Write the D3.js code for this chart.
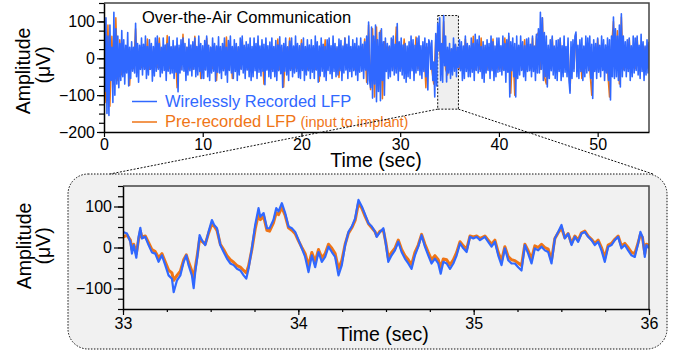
<!DOCTYPE html>
<html>
<head>
<meta charset="utf-8">
<script src="https://cdn.jsdelivr.net/npm/d3@7"></script>
<style>
  body { margin: 0; background: #fff; }
  text { font-family: "Liberation Sans", Arial, sans-serif; }
</style>
</head>
<body>
<div id="chart"></div>
<script>
// ---- data ----
// top panel: 0.1 s sampling, 0 .. 55.2 s
const overviewStep = 0.1;
const overviewBlue = [
  20, -90, 110, -150, 60, -155, 90, -60, 30, -120,
  125, -100, 80, -70, 60, -80, 40, -60, 75, -50,
  50, -70, 35, -40, 70, -75, 30, -55, 45, -35,
  30, -40, 95, -50, 40, -65, 35, -30, 55, -45,
  38, -30, 60, -55, 32, -45, 50, -30, 40, -62,
  32, -48, 55, -35, 60, -30, 40, -50, 30, -40,
  55, -33, 36, -60, 40, -35, 58, -42, 31, -40,
  48, -55, 33, -38, 55, -91, 35, -40, 50, -32,
  55, -35, 40, -60, 30, -45, 52, -34, 36, -48,
  45, -30, 55, -50, 32, -45, 60, -36, 40, -55,
  34, -55, 48, -32, 60, -50, 35, -60, 30, -40,
  55, -35, 40, -62, 33, -38, 58, -40, 32, -55,
  40, -34, 55, -45, 30, -65, 48, -33, 60, -40,
  32, -55, 50, -36, 40, -60, 31, -45, 55, -30,
  60, -40, 35, -55, 45, -32, 38, -50, 55, -60,
  32, -50, 55, -34, 40, -55, 60, -38, 33, -48,
  50, -35, 38, -72, 55, -32, 34, -50, 44, -55,
  55, -36, 32, -50, 48, -60, 36, -34, 58, -42,
  35, -79, 40, -35, 55, -45, 31, -60, 47, -33,
  55, -50, 33, -40, 60, -36, 40, -52, 34, -55,
  40, -33, 55, -60, 32, -45, 50, -34, 36, -55,
  50, -38, 34, -55, 60, -32, 45, -65, 33, -48,
  55, -35, 38, -50, 32, -60, 50, -33, 55, -42,
  34, -55, 60, -36, 40, -50, 31, -45, 52, -34,
  48, -60, 33, -40, 55, -32, 38, -55, 60, -36,
  32, -50, 50, -34, 40, -45, 55, -60, 33, -38,
  55, -35, 38, -55, 45, -32, 60, -70, 98, -60,
  -80, 85, -108, 60, -70, 90, -118, 50, -90, 70,
  -115, 80, -60, 45, -100, 55, -36, 40, -55, 33,
  -50, 55, -34, 60, -45, 38, -40, 94, -60, 45,
  -35, 55, -45, 36, -55, 40, -65, 33, -50, 45,
  -55, 60, -34, 50, -60, 35, -40, 55, -33, 60,
  -45, 34, -55, 45, -36, 55, -50, 40, -86, 50,
  40, -30, 48, -60, -10, -105, 67, -75, 95, 20,
  110, -60, 40, -65, 116, -20, 60, -64, 30, -40,
  40, -55, 26, -45, 55, -35, 38, -50, 30, -25,
  50, -34, 45, -60, 33, -55, 60, -36, 40, -50,
  34, -50, 55, -38, 40, -60, 65, -33, 50, -40,
  60, -36, 32, -55, 45, -65, 35, -40, 50, -33,
  40, -55, 60, -34, 45, -60, 33, -50, 55, -38,
  55, -36, 34, -45, 60, -33, 40, -65, 50, -38,
  68, -105, 45, -34, 55, -50, 40, -105, 60, -55,
  35, -45, 60, -33, 45, -50, 34, -60, 52, -36,
  55, -34, 38, -50, 60, -36, 33, -60, 65, -40,
  80, -40, 125, -30, 110, -60, 70, -50, 60, -78,
  35, -55, 50, -34, 60, -45, 33, -55, 48, -60,
  50, -36, 55, -60, 34, -50, 60, -38, 32, -50,
  55, -60, -95, 45, -55, 50, -36, 60, 71, -50,
  35, -55, 50, -36, 55, -60, 33, -50, 60, -40,
  55, -34, 60, -55, 38, -109, 50, -36, 40, -55,
  55, -38, 35, -50, 60, -33, 50, -60, 36, -40,
  55, -60, 50, -113, 60, -50, 112, -55, 80, -50,
  60, -60, 90, -78, 121, -50, 60, -34, 45, -50,
  50, -36, 55, -60, 34, -50, 60, -40, 55, -33,
  60, -45, 35, -55, 65, -36, 45, -60, 33, -45,
  50, -40, 45
];
// orange in the top panel, 0.2 s sampling
const overviewOrangeStep = 0.2;
const overviewOrange = [
  15, -120, 90, -130, 60,  -70, 110, -60, 50, -45,
  28, -30, 25, -73, 30,  -28, 80, -30, 28, -25,
  30, -28, 52, -30, 26,  -28, 30, -25, 55, -30,
  28, -30, 62, -28, 30,  -26, 30, -80, 28, -30,
  65, -28, 30, -30, 26,  -30, 60, -28, 30, -55,
  28, -30, 55, -26, 30,  -28, 30, -60, 28, -30,
  26, -28, 58, -30, 30,  -55, 28, -30, 30, -28,
  50, -26, 30, -30, 28,  -28, 30, -26, 49, -30,
  28, -70, 30, -28, 30,  -30, 28, -26, 52, -30,
  28, -78, 30, -30, 55,  -28, 30, -26, 30, -30,
  50, -28, 30, -30, 28,  -26, 30, -30, 28, -62,
  30, -28, 50, -30, 28,  -30, 30, -26, 28, -52,
  28, -30, 55, -28, 30,  -28, 30, -30, 26, -30,
  30, -28, 52, -65, 90,  -85, 80, -105, 85, -85,
  75, -110, 45, -30, 30,  -28, 50, -30, 85, -30,
  30, -28, 52, -30, 28,  -30, 28, -26, 58, -28,
  30, -30, 28, -80, 30,  30, -30, -70, 52, 70,
  16, -30, 100, -30, -45,  26, -30, 30, 36, -25,
  -28, 30, -30, 52, -28,  30, -28, 60, -30, 28,
  -30, 55, -28, 30, -30,  28, -30, 52, -28, 30,
  -30, 28, -30, 55, -28,  60, -95, 30, -100, 30,
  -28, 30, -30, 50, -30,  30, -28, 55, -30, 60,
  70, -30, 110, -50, -70,  30, -28, 55, -30, 28,
  -30, 52, -28, 30, -30,  28, -88, 30, -28, 65,
  -30, 28, -55, 30, -28,  30, -30, -100, 28, -30,
  52, -28, 30, -30, 28,  -30, -105, 30, 100, -28,
  75, -70, 112, -30, 30,  -28, 52, -30, 30, -28,
  55, -30, 28, -30, 30,  -28, 28
];

// bottom panel (33 - 36 s)
const detailTime = [
  33.000, 33.023, 33.042, 33.051, 33.061, 33.076, 33.089, 33.099, 33.108, 33.127,
  33.146, 33.165, 33.184, 33.203, 33.222, 33.241, 33.260, 33.279, 33.289, 33.308,
  33.327, 33.346, 33.361, 33.374, 33.393, 33.403, 33.412, 33.425, 33.437, 33.450,
  33.469, 33.488, 33.507, 33.520, 33.536, 33.555, 33.574, 33.593, 33.612, 33.631,
  33.650, 33.669, 33.688, 33.703, 33.716, 33.735, 33.754, 33.773, 33.783, 33.802,
  33.821, 33.836, 33.858, 33.874, 33.887, 33.906, 33.925, 33.944, 33.963, 33.982,
  34.001, 34.020, 34.039, 34.058, 34.077, 34.096, 34.115, 34.134, 34.153, 34.172,
  34.191, 34.210, 34.229, 34.248, 34.267, 34.286, 34.305, 34.324, 34.343, 34.362,
  34.381, 34.400, 34.419, 34.438, 34.447, 34.466, 34.485, 34.500, 34.513, 34.532,
  34.551, 34.570, 34.589, 34.608, 34.627, 34.646, 34.665, 34.684, 34.703, 34.722,
  34.741, 34.760, 34.779, 34.798, 34.812, 34.827, 34.846, 34.865, 34.884, 34.903,
  34.922, 34.941, 34.960, 34.979, 34.998, 35.017, 35.036, 35.064, 35.083, 35.102,
  35.121, 35.140, 35.159, 35.178, 35.197, 35.216, 35.235, 35.254, 35.273, 35.292,
  35.311, 35.330, 35.349, 35.368, 35.387, 35.406, 35.425, 35.444, 35.463, 35.482,
  35.501, 35.520, 35.539, 35.558, 35.577, 35.596, 35.615, 35.634, 35.653, 35.672,
  35.691, 35.710, 35.729, 35.748, 35.767, 35.786, 35.805, 35.824, 35.843, 35.862,
  35.881, 35.900, 35.919, 35.938, 35.951, 35.963, 35.976, 35.985, 36.000
];
const detailBlue = [
  38, 34, 14, -15, 6, -25, 26, 48, 22, 26,
  6, -12, -15, -35, -19, -43, -68, -76, -109, -80,
  -68, -35, -19, -43, -68, -99, -60, -19, 30, 18,
  6, 38, 67, 55, 47, 6, -11, -27, -39, -43,
  -52, -56, -68, -76, -52, -2, 55, 96, 75, 84,
  47, 47, 67, 96, 88, 108, 84, 51, 47, 38,
  18, -2, -23, -60, -19, -48, -11, -35, -23, 2,
  -11, -23, -68, -43, 6, 38, 51, 71, 116, 100,
  80, 59, 51, 38, 26, 38, 47, 6, -35, -19,
  -7, 14, -11, -27, -39, -52, -19, 2, 30, 2,
  -19, -39, -27, -39, -64, -35, -39, -52, -39, -19,
  10, -2, -11, 26, 22, 26, 18, 26, 14, 2,
  14, -19, -43, -2, -31, -39, -39, -48, -56, 6,
  -15, -39, -2, -7, 2, -7, -11, -39, 22, 38,
  55, 22, 34, 6, 26, 14, 34, 38, 26, 18,
  6, 14, -7, -35, 2, 6, 18, 26, -2, 6,
  -7, -19, -23, 10, 38, 26, -23, 6, -2
];
const detailOrange = [
  25, 30, 18, -5, 8, -15, 20, 40, 25, 28,
  12, -5, -10, -25, -15, -35, -55, -62, -80, -68,
  -58, -30, -18, -35, -58, -75, -50, -15, 22, 15,
  8, 35, 58, 52, 42, 8, -5, -20, -30, -36,
  -44, -48, -56, -62, -45, -5, 45, 82, 68, 76,
  42, 40, 60, 85, 80, 98, 78, 48, 42, 34,
  16, 0, -15, -45, -12, -35, -5, -25, -15, 8,
  -2, -15, -52, -32, 8, 35, 48, 66, 108, 96,
  76, 58, 48, 38, 28, 40, 42, 10, -25, -12,
  -2, 18, -5, -20, -30, -42, -12, 6, 32, 8,
  -12, -30, -20, -30, -50, -28, -30, -42, -30, -12,
  14, 4, -4, 28, 26, 28, 22, 28, 18, 8,
  18, -12, -32, 2, -22, -30, -32, -38, -44, 8,
  -8, -28, 4, 0, 8, 0, -4, -30, 22, 36,
  48, 24, 34, 10, 28, 18, 36, 40, 28, 20,
  10, 18, 0, -25, 6, 10, 20, 28, 4, 10,
  0, -12, -15, 12, 32, 24, -15, 8, 5
];

// zoomed window marked in the overview
const windowTime = [33.8, 35.9];
const windowAmp = [116, -138];

const overviewXTicks = [0, 10, 20, 30, 40, 50];
const overviewYTicks = [-200, -100, 0, 100];
const detailXTicks = [33, 34, 35, 36];
const detailYTicks = [-100, 0, 100];

const blue = "#3068ff";
const orange = "#ef7516";

const width = 683, height = 353;

const svg = d3.select("#chart").append("svg")
  .attr("width", width)
  .attr("height", height);

// ---------- top panel ----------
const pTop = { left: 104, right: 649, top: 3, bottom: 132 };
const x1 = d3.scaleLinear().domain([0, 55.2]).range([pTop.left, pTop.right]);
const y1 = d3.scaleLinear().domain([-200, 150]).range([pTop.bottom, pTop.top]);

svg.append("clipPath").attr("id", "clipTop")
  .append("rect")
  .attr("x", pTop.left).attr("y", pTop.top)
  .attr("width", pTop.right - pTop.left).attr("height", pTop.bottom - pTop.top);

// zoom window (under the traces)
svg.append("rect")
  .attr("x", x1(windowTime[0]))
  .attr("y", y1(windowAmp[0]))
  .attr("width", x1(windowTime[1]) - x1(windowTime[0]))
  .attr("height", y1(windowAmp[1]) - y1(windowAmp[0]))
  .attr("fill", "#efefef")
  .attr("stroke", "#111")
  .attr("stroke-width", 1)
  .attr("stroke-dasharray", "2,1.5");

const lineTopOrange = d3.line()
  .x((d, i) => x1(i * overviewOrangeStep))
  .y(d => y1(d));
const lineTopBlue = d3.line()
  .x((d, i) => x1(i * overviewStep))
  .y(d => y1(d));

const gTop = svg.append("g").attr("clip-path", "url(#clipTop)");
gTop.append("path")
  .datum(overviewOrange)
  .attr("fill", "none")
  .attr("stroke", orange)
  .attr("stroke-width", 1.5)
  .attr("stroke-linejoin", "round")
  .attr("d", lineTopOrange);
gTop.append("path")
  .datum(overviewBlue)
  .attr("fill", "none")
  .attr("stroke", blue)
  .attr("stroke-width", 1.6)
  .attr("stroke-linejoin", "round")
  .attr("d", lineTopBlue);

// frame: top + right gray
svg.append("path")
  .attr("d", `M${pTop.left},${pTop.top}H${pTop.right}V${pTop.bottom}`)
  .attr("fill", "none")
  .attr("stroke", "#444")
  .attr("stroke-width", 1.5);

const styleAxis = g => {
  g.select(".domain").attr("stroke", "#000").attr("stroke-width", 1.5);
  g.selectAll(".tick line").attr("stroke", "#000").attr("stroke-width", 1.2);
  g.selectAll("text")
    .attr("font-family", "'Liberation Sans', Arial, sans-serif")
    .attr("font-size", 16)
    .attr("fill", "#000");
};
const minus = d => d < 0 ? "\u2212" + Math.abs(d) : d;

// y minor ticks
svg.append("g")
  .attr("transform", `translate(${pTop.left},0)`)
  .call(d3.axisLeft(y1).tickValues(d3.range(-200, 151, 25)).tickSize(5).tickFormat(""))
  .call(g => g.select(".domain").remove())
  .call(g => g.selectAll(".tick line").attr("stroke", "#000").attr("stroke-width", 1.2));
svg.append("g")
  .attr("transform", `translate(${pTop.left},0)`)
  .call(d3.axisLeft(y1).tickValues(overviewYTicks).tickSize(7).tickSizeOuter(0).tickPadding(2)
    .tickFormat(minus))
  .call(styleAxis);

svg.append("g")
  .attr("transform", `translate(0,${pTop.bottom})`)
  .call(d3.axisBottom(x1).tickValues(overviewXTicks).tickSize(5).tickSizeOuter(0).tickPadding(2)
    .tickFormat(d3.format("d")))
  .call(styleAxis);

svg.append("text")
  .attr("x", 376).attr("y", 167)
  .attr("text-anchor", "middle")
  .attr("font-size", 19.5)
  .text("Time (sec)");

svg.append("text")
  .attr("transform", "translate(30,71) rotate(-90)")
  .attr("text-anchor", "middle")
  .attr("font-size", 19.5)
  .text("Amplitude");
svg.append("text")
  .attr("transform", "translate(50,65) rotate(-90)")
  .attr("text-anchor", "middle")
  .attr("font-size", 19.5)
  .text("(\u03bcV)");

svg.append("text")
  .attr("x", 142).attr("y", 23)
  .attr("font-size", 16.5)
  .attr("fill", "#000")
  .text("Over-the-Air Communication");

// legend
svg.append("line")
  .attr("x1", 132).attr("x2", 157).attr("y1", 101.5).attr("y2", 101.5)
  .attr("stroke", blue).attr("stroke-width", 1.5);
svg.append("text")
  .attr("x", 165).attr("y", 107)
  .attr("font-size", 16.5)
  .attr("fill", blue)
  .text("Wirelessly Recorded LFP");
svg.append("line")
  .attr("x1", 132).attr("x2", 157).attr("y1", 122).attr("y2", 122)
  .attr("stroke", orange).attr("stroke-width", 1.5);
const leg2 = svg.append("text")
  .attr("x", 165).attr("y", 127)
  .attr("font-size", 16.5)
  .attr("fill", orange);
leg2.append("tspan").text("Pre-recorded LFP ");
leg2.append("tspan").attr("font-size", 14.5).text("(input to implant)");

// ---------- bottom panel ----------
svg.append("rect")
  .attr("x", 68).attr("y", 174)
  .attr("width", 599).attr("height", 175)
  .attr("rx", 20).attr("ry", 20)
  .attr("fill", "#f1f1f1")
  .attr("stroke", "#111")
  .attr("stroke-width", 1)
  .attr("stroke-dasharray", "1.5,1.5");

const pBot = { left: 123, right: 649, top: 186, bottom: 309 };
const x2 = d3.scaleLinear().domain([33, 36]).range([pBot.left, pBot.right]);
const y2 = d3.scaleLinear().domain([-150, 150]).range([pBot.bottom, pBot.top]);

svg.append("clipPath").attr("id", "clipBot")
  .append("rect")
  .attr("x", pBot.left).attr("y", pBot.top)
  .attr("width", pBot.right - pBot.left).attr("height", pBot.bottom - pBot.top);

const lineBot = vals => d3.line()
  .x((d, i) => x2(detailTime[i]))
  .y(d => y2(d))(vals);

const gBot = svg.append("g").attr("clip-path", "url(#clipBot)");
gBot.append("path")
  .attr("d", lineBot(detailOrange))
  .attr("fill", "none")
  .attr("stroke", orange)
  .attr("stroke-width", 3)
  .attr("stroke-linejoin", "round");
gBot.append("path")
  .attr("d", lineBot(detailBlue))
  .attr("fill", "none")
  .attr("stroke", blue)
  .attr("stroke-width", 2.2)
  .attr("stroke-linejoin", "round");

svg.append("path")
  .attr("d", `M${pBot.left},${pBot.top}H${pBot.right}V${pBot.bottom}`)
  .attr("fill", "none")
  .attr("stroke", "#444")
  .attr("stroke-width", 1.5);

svg.append("g")
  .attr("transform", `translate(${pBot.left},0)`)
  .call(d3.axisLeft(y2).tickValues(d3.range(-150, 151, 25)).tickSize(5).tickFormat(""))
  .call(g => g.select(".domain").remove())
  .call(g => g.selectAll(".tick line").attr("stroke", "#000").attr("stroke-width", 1.2));
svg.append("g")
  .attr("transform", `translate(${pBot.left},0)`)
  .call(d3.axisLeft(y2).tickValues(detailYTicks).tickSize(9).tickSizeOuter(0).tickPadding(2)
    .tickFormat(minus))
  .call(styleAxis);

svg.append("g")
  .attr("transform", `translate(0,${pBot.bottom})`)
  .call(d3.axisBottom(x2).tickValues(d3.range(33, 36.01, 0.25)).tickSize(3).tickFormat(""))
  .call(g => g.select(".domain").remove())
  .call(g => g.selectAll(".tick line").attr("stroke", "#000").attr("stroke-width", 1.2));
svg.append("g")
  .attr("transform", `translate(0,${pBot.bottom})`)
  .call(d3.axisBottom(x2).tickValues(detailXTicks).tickSize(6).tickSizeOuter(0).tickPadding(3)
    .tickFormat(d3.format("d")))
  .call(styleAxis);

svg.append("text")
  .attr("x", 383).attr("y", 341)
  .attr("text-anchor", "middle")
  .attr("font-size", 19.5)
  .text("Time (sec)");
svg.append("text")
  .attr("transform", "translate(31,246) rotate(-90)")
  .attr("text-anchor", "middle")
  .attr("font-size", 19.5)
  .text("Amplitude");
svg.append("text")
  .attr("transform", "translate(50,246) rotate(-90)")
  .attr("text-anchor", "middle")
  .attr("font-size", 19.5)
  .text("(\u03bcV)");

// connectors from zoom window to detail panel
svg.append("g")
  .attr("fill", "none")
  .attr("stroke", "#111")
  .attr("stroke-width", 1)
  .attr("stroke-dasharray", "2,1.5")
  .selectAll("line")
  .data([[windowTime[0], 110], [windowTime[1], 653]])
  .join("line")
  .attr("x1", d => x1(d[0]))
  .attr("y1", y1(windowAmp[1]))
  .attr("x2", d => d[1])
  .attr("y2", 174);
</script>
</body>
</html>
